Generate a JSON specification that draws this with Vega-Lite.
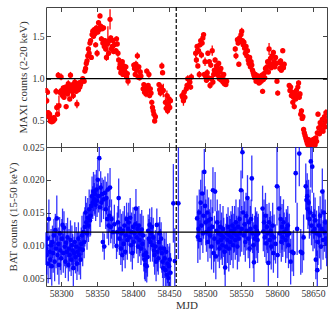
{
"$schema":"https://vega.github.io/schema/vega-lite/v6.json",
"padding":{"left":6,"top":5,"right":5,"bottom":5},
"background":"white",
"spacing":0,
"bounds":"flush",
"config":{
"view":{"stroke":"#444","strokeWidth":1},
"axis":{"domain":false,"grid":false,"tickSize":-4.5,"tickColor":"#444","tickWidth":1,"labelFont":"Liberation Serif","labelFontSize":9.6,"labelColor":"#333","labelPadding":6.5,"labelFlush":false,"labelOverlap":false,"titleFont":"Liberation Serif","titleFontSize":11,"titleFontWeight":"normal","titleColor":"#333","titlePadding":4}
},
"datasets":{
"maxi":[
{"t":58279,"v":0.86,"e":0.03},{"t":58280,"v":0.74,"e":0.04},{"t":58281,"v":0.84,"e":0.03},{"t":58282,"v":0.60,"e":0.03},{"t":58283,"v":0.55,"e":0.03},{"t":58284,"v":0.58,"e":0.04},{"t":58285,"v":0.50,"e":0.02},{"t":58286,"v":0.52,"e":0.03},{"t":58287,"v":0.49,"e":0.02},{"t":58288,"v":0.53,"e":0.03},{"t":58289,"v":0.50,"e":0.02},{"t":58290,"v":0.54,"e":0.03},{"t":58291,"v":0.52,"e":0.03},{"t":58293,"v":0.85,"e":0.04},{"t":58294,"v":0.66,"e":0.05},{"t":58295,"v":0.58,"e":0.03},{"t":58296,"v":1.04,"e":0.04},{"t":58297,"v":0.68,"e":0.12},{"t":58298,"v":0.84,"e":0.04},{"t":58300,"v":1.02,"e":0.04},{"t":58301,"v":0.86,"e":0.03},{"t":58302,"v":0.80,"e":0.04},{"t":58303,"v":0.89,"e":0.03},{"t":58304,"v":0.78,"e":0.03},{"t":58305,"v":0.84,"e":0.04},{"t":58306,"v":0.90,"e":0.03},{"t":58307,"v":0.67,"e":0.03},{"t":58308,"v":0.88,"e":0.04},{"t":58309,"v":0.82,"e":0.03},{"t":58310,"v":0.94,"e":0.04},{"t":58311,"v":0.86,"e":0.03},{"t":58312,"v":0.76,"e":0.03},{"t":58313,"v":1.04,"e":0.04},{"t":58314,"v":0.90,"e":0.03},{"t":58315,"v":0.85,"e":0.04},{"t":58316,"v":0.93,"e":0.03},{"t":58317,"v":0.80,"e":0.04},{"t":58318,"v":0.88,"e":0.03},{"t":58319,"v":0.96,"e":0.04},{"t":58320,"v":0.91,"e":0.03},{"t":58321,"v":0.85,"e":0.03},{"t":58322,"v":0.70,"e":0.05},{"t":58323,"v":0.92,"e":0.04},{"t":58324,"v":0.87,"e":0.03},{"t":58325,"v":0.95,"e":0.03},{"t":58326,"v":0.90,"e":0.04},{"t":58327,"v":0.93,"e":0.03},{"t":58328,"v":0.96,"e":0.04},{"t":58330,"v":1.00,"e":0.03},{"t":58332,"v":0.97,"e":0.03},{"t":58333,"v":1.09,"e":0.03},{"t":58334,"v":1.12,"e":0.03},{"t":58335,"v":1.18,"e":0.03},{"t":58336,"v":1.21,"e":0.03},{"t":58337,"v":1.27,"e":0.04},{"t":58338,"v":1.35,"e":0.03},{"t":58339,"v":1.30,"e":0.04},{"t":58340,"v":1.42,"e":0.03},{"t":58341,"v":1.45,"e":0.03},{"t":58342,"v":1.25,"e":0.03},{"t":58343,"v":1.52,"e":0.03},{"t":58344,"v":1.56,"e":0.03},{"t":58345,"v":1.50,"e":0.03},{"t":58346,"v":1.58,"e":0.03},{"t":58347,"v":1.53,"e":0.03},{"t":58348,"v":1.40,"e":0.03},{"t":58349,"v":1.60,"e":0.03},{"t":58350,"v":1.30,"e":0.04},{"t":58351,"v":1.55,"e":0.03},{"t":58352,"v":1.66,"e":0.03},{"t":58353,"v":1.58,"e":0.03},{"t":58354,"v":1.74,"e":0.03},{"t":58355,"v":1.62,"e":0.03},{"t":58356,"v":1.47,"e":0.03},{"t":58357,"v":1.59,"e":0.03},{"t":58358,"v":1.42,"e":0.03},{"t":58359,"v":1.60,"e":0.03},{"t":58360,"v":1.38,"e":0.04},{"t":58361,"v":1.45,"e":0.03},{"t":58362,"v":1.35,"e":0.03},{"t":58363,"v":1.25,"e":0.04},{"t":58364,"v":1.41,"e":0.03},{"t":58365,"v":1.42,"e":0.20},{"t":58366,"v":1.30,"e":0.03},{"t":58367,"v":1.45,"e":0.04},{"t":58368,"v":1.70,"e":0.12},{"t":58369,"v":1.48,"e":0.03},{"t":58370,"v":1.35,"e":0.04},{"t":58371,"v":1.38,"e":0.03},{"t":58372,"v":1.45,"e":0.03},{"t":58373,"v":1.32,"e":0.03},{"t":58374,"v":1.40,"e":0.04},{"t":58376,"v":1.33,"e":0.03},{"t":58377,"v":1.47,"e":0.03},{"t":58378,"v":1.41,"e":0.03},{"t":58379,"v":1.30,"e":0.04},{"t":58380,"v":1.22,"e":0.03},{"t":58381,"v":1.13,"e":0.03},{"t":58382,"v":1.17,"e":0.03},{"t":58383,"v":1.07,"e":0.03},{"t":58384,"v":1.10,"e":0.04},{"t":58385,"v":1.20,"e":0.03},{"t":58386,"v":1.05,"e":0.03},{"t":58387,"v":1.15,"e":0.03},{"t":58388,"v":1.12,"e":0.03},{"t":58389,"v":1.08,"e":0.04},{"t":58390,"v":1.14,"e":0.03},{"t":58391,"v":1.02,"e":0.04},{"t":58392,"v":1.06,"e":0.03},{"t":58393,"v":0.97,"e":0.05},{"t":58401,"v":1.16,"e":0.03},{"t":58402,"v":1.12,"e":0.03},{"t":58403,"v":1.05,"e":0.03},{"t":58404,"v":1.17,"e":0.04},{"t":58405,"v":1.10,"e":0.03},{"t":58406,"v":1.27,"e":0.04},{"t":58407,"v":1.02,"e":0.03},{"t":58408,"v":1.14,"e":0.03},{"t":58409,"v":1.01,"e":0.03},{"t":58410,"v":1.08,"e":0.04},{"t":58411,"v":1.03,"e":0.03},{"t":58414,"v":0.88,"e":0.03},{"t":58415,"v":0.93,"e":0.03},{"t":58416,"v":0.84,"e":0.03},{"t":58417,"v":0.90,"e":0.03},{"t":58418,"v":0.82,"e":0.04},{"t":58419,"v":1.09,"e":0.03},{"t":58420,"v":0.86,"e":0.03},{"t":58421,"v":0.92,"e":0.03},{"t":58422,"v":1.05,"e":0.04},{"t":58423,"v":0.80,"e":0.03},{"t":58424,"v":0.88,"e":0.03},{"t":58425,"v":0.83,"e":0.03},{"t":58426,"v":0.72,"e":0.03},{"t":58427,"v":0.66,"e":0.03},{"t":58428,"v":0.62,"e":0.03},{"t":58429,"v":0.58,"e":0.03},{"t":58430,"v":0.50,"e":0.02},{"t":58431,"v":0.55,"e":0.04},{"t":58436,"v":0.93,"e":0.03},{"t":58437,"v":0.87,"e":0.03},{"t":58438,"v":0.83,"e":0.04},{"t":58439,"v":0.90,"e":0.03},{"t":58440,"v":1.15,"e":0.04},{"t":58441,"v":1.07,"e":0.03},{"t":58442,"v":0.86,"e":0.08},{"t":58445,"v":0.72,"e":0.05},{"t":58446,"v":0.65,"e":0.04},{"t":58447,"v":0.80,"e":0.06},{"t":58448,"v":0.62,"e":0.04},{"t":58449,"v":0.70,"e":0.03},{"t":58450,"v":0.76,"e":0.05},{"t":58451,"v":0.66,"e":0.04},{"t":58452,"v":0.74,"e":0.03},{"t":58468,"v":0.80,"e":0.04},{"t":58469,"v":0.78,"e":0.03},{"t":58470,"v":0.74,"e":0.06},{"t":58471,"v":0.84,"e":0.03},{"t":58472,"v":0.78,"e":0.05},{"t":58474,"v":0.88,"e":0.04},{"t":58475,"v":0.92,"e":0.03},{"t":58476,"v":1.00,"e":0.04},{"t":58477,"v":0.93,"e":0.03},{"t":58479,"v":0.96,"e":0.03},{"t":58480,"v":0.90,"e":0.03},{"t":58481,"v":1.02,"e":0.04},{"t":58487,"v":1.30,"e":0.05},{"t":58488,"v":1.22,"e":0.04},{"t":58489,"v":1.38,"e":0.03},{"t":58490,"v":1.15,"e":0.03},{"t":58491,"v":1.33,"e":0.04},{"t":58492,"v":1.05,"e":0.04},{"t":58493,"v":1.40,"e":0.03},{"t":58494,"v":1.45,"e":0.03},{"t":58495,"v":1.28,"e":0.04},{"t":58496,"v":1.42,"e":0.03},{"t":58497,"v":1.48,"e":0.03},{"t":58498,"v":1.52,"e":0.03},{"t":58499,"v":1.05,"e":0.03},{"t":58500,"v":1.20,"e":0.05},{"t":58501,"v":1.02,"e":0.03},{"t":58502,"v":0.98,"e":0.03},{"t":58503,"v":1.07,"e":0.04},{"t":58504,"v":1.30,"e":0.03},{"t":58505,"v":1.01,"e":0.03},{"t":58506,"v":1.20,"e":0.03},{"t":58507,"v":0.92,"e":0.04},{"t":58508,"v":1.16,"e":0.03},{"t":58509,"v":1.00,"e":0.03},{"t":58510,"v":1.33,"e":0.06},{"t":58511,"v":0.96,"e":0.04},{"t":58512,"v":1.05,"e":0.03},{"t":58513,"v":1.10,"e":0.03},{"t":58514,"v":1.22,"e":0.03},{"t":58515,"v":1.08,"e":0.04},{"t":58516,"v":1.15,"e":0.03},{"t":58517,"v":1.12,"e":0.03},{"t":58518,"v":1.04,"e":0.03},{"t":58519,"v":1.18,"e":0.03},{"t":58520,"v":1.00,"e":0.04},{"t":58521,"v":1.08,"e":0.03},{"t":58522,"v":1.12,"e":0.03},{"t":58523,"v":0.98,"e":0.03},{"t":58524,"v":1.02,"e":0.04},{"t":58525,"v":0.96,"e":0.03},{"t":58526,"v":1.05,"e":0.03},{"t":58527,"v":0.94,"e":0.03},{"t":58528,"v":0.98,"e":0.03},{"t":58529,"v":0.93,"e":0.03},{"t":58530,"v":0.97,"e":0.03},{"t":58542,"v":1.35,"e":0.03},{"t":58543,"v":1.27,"e":0.04},{"t":58545,"v":1.46,"e":0.03},{"t":58546,"v":1.42,"e":0.03},{"t":58547,"v":1.17,"e":0.03},{"t":58548,"v":1.48,"e":0.03},{"t":58549,"v":1.44,"e":0.03},{"t":58550,"v":1.52,"e":0.03},{"t":58551,"v":1.56,"e":0.04},{"t":58552,"v":1.45,"e":0.03},{"t":58553,"v":1.40,"e":0.03},{"t":58554,"v":1.43,"e":0.03},{"t":58555,"v":1.36,"e":0.03},{"t":58556,"v":1.30,"e":0.03},{"t":58557,"v":1.38,"e":0.03},{"t":58558,"v":1.27,"e":0.03},{"t":58559,"v":1.33,"e":0.03},{"t":58560,"v":1.22,"e":0.03},{"t":58561,"v":1.18,"e":0.03},{"t":58562,"v":1.25,"e":0.03},{"t":58563,"v":1.14,"e":0.03},{"t":58564,"v":1.20,"e":0.03},{"t":58565,"v":1.16,"e":0.03},{"t":58566,"v":1.10,"e":0.03},{"t":58567,"v":1.07,"e":0.03},{"t":58568,"v":1.04,"e":0.03},{"t":58569,"v":1.01,"e":0.03},{"t":58570,"v":1.05,"e":0.03},{"t":58571,"v":0.97,"e":0.03},{"t":58572,"v":1.02,"e":0.03},{"t":58573,"v":0.99,"e":0.03},{"t":58574,"v":1.03,"e":0.03},{"t":58575,"v":0.95,"e":0.03},{"t":58576,"v":1.00,"e":0.03},{"t":58577,"v":1.02,"e":0.03},{"t":58578,"v":0.97,"e":0.04},{"t":58579,"v":1.04,"e":0.03},{"t":58580,"v":0.85,"e":0.03},{"t":58581,"v":0.99,"e":0.03},{"t":58582,"v":1.06,"e":0.03},{"t":58583,"v":1.01,"e":0.03},{"t":58584,"v":1.12,"e":0.03},{"t":58585,"v":1.09,"e":0.03},{"t":58586,"v":1.14,"e":0.03},{"t":58587,"v":1.20,"e":0.03},{"t":58588,"v":1.08,"e":0.03},{"t":58589,"v":1.35,"e":0.07},{"t":58590,"v":1.18,"e":0.03},{"t":58591,"v":1.24,"e":0.03},{"t":58592,"v":1.13,"e":0.03},{"t":58593,"v":1.27,"e":0.03},{"t":58594,"v":1.16,"e":0.03},{"t":58595,"v":1.31,"e":0.03},{"t":58596,"v":1.20,"e":0.03},{"t":58597,"v":1.14,"e":0.03},{"t":58598,"v":1.25,"e":0.03},{"t":58599,"v":1.18,"e":0.03},{"t":58600,"v":0.97,"e":0.03},{"t":58601,"v":0.83,"e":0.03},{"t":58603,"v":1.19,"e":0.03},{"t":58604,"v":1.12,"e":0.03},{"t":58605,"v":1.21,"e":0.03},{"t":58606,"v":1.10,"e":0.03},{"t":58607,"v":1.16,"e":0.03},{"t":58608,"v":1.33,"e":0.03},{"t":58609,"v":1.13,"e":0.03},{"t":58610,"v":1.17,"e":0.03},{"t":58617,"v":0.92,"e":0.03},{"t":58618,"v":0.86,"e":0.03},{"t":58619,"v":0.90,"e":0.03},{"t":58620,"v":0.80,"e":0.03},{"t":58621,"v":0.84,"e":0.03},{"t":58622,"v":0.72,"e":0.03},{"t":58623,"v":0.78,"e":0.03},{"t":58624,"v":0.67,"e":0.03},{"t":58625,"v":0.82,"e":0.03},{"t":58626,"v":0.76,"e":0.03},{"t":58627,"v":0.86,"e":0.03},{"t":58628,"v":0.80,"e":0.03},{"t":58629,"v":0.90,"e":0.03},{"t":58630,"v":0.95,"e":0.03},{"t":58631,"v":0.78,"e":0.03},{"t":58632,"v":0.82,"e":0.03},{"t":58633,"v":0.58,"e":0.03},{"t":58634,"v":0.62,"e":0.03},{"t":58635,"v":0.53,"e":0.03},{"t":58636,"v":0.55,"e":0.03},{"t":58637,"v":0.40,"e":0.03},{"t":58638,"v":0.36,"e":0.03},{"t":58639,"v":0.33,"e":0.03},{"t":58640,"v":0.30,"e":0.03},{"t":58641,"v":0.27,"e":0.03},{"t":58642,"v":0.24,"e":0.03},{"t":58643,"v":0.22,"e":0.03},{"t":58644,"v":0.28,"e":0.03},{"t":58645,"v":0.21,"e":0.03},{"t":58646,"v":0.25,"e":0.03},{"t":58647,"v":0.22,"e":0.03},{"t":58648,"v":0.26,"e":0.03},{"t":58649,"v":0.23,"e":0.03},{"t":58650,"v":0.28,"e":0.03},{"t":58651,"v":0.24,"e":0.03},{"t":58652,"v":0.29,"e":0.03},{"t":58653,"v":0.22,"e":0.03},{"t":58654,"v":0.30,"e":0.03},{"t":58655,"v":0.26,"e":0.03},{"t":58656,"v":0.36,"e":0.03},{"t":58657,"v":0.58,"e":0.03},{"t":58658,"v":0.42,"e":0.03},{"t":58659,"v":0.35,"e":0.03},{"t":58660,"v":0.48,"e":0.03},{"t":58661,"v":0.40,"e":0.03},{"t":58662,"v":0.45,"e":0.03},{"t":58663,"v":0.52,"e":0.03},{"t":58664,"v":0.38,"e":0.03},{"t":58665,"v":0.46,"e":0.03},{"t":58666,"v":0.55,"e":0.03},{"t":58667,"v":0.43,"e":0.03},{"t":58668,"v":0.60,"e":0.04},{"t":58669,"v":0.50,"e":0.03}
],
"bat":[
{"t":58279,"v":0.0095,"e":0.0025},{"t":58280,"v":0.0085,"e":0.003},{"t":58281,"v":0.0110,"e":0.0025},{"t":58282,"v":0.0072,"e":0.003},{"t":58283,"v":0.0140,"e":0.003},{"t":58284,"v":0.0090,"e":0.0025},{"t":58285,"v":0.0078,"e":0.003},{"t":58286,"v":0.0100,"e":0.0025},{"t":58287,"v":0.0068,"e":0.003},{"t":58288,"v":0.0105,"e":0.0025},{"t":58289,"v":0.0088,"e":0.003},{"t":58290,"v":0.0115,"e":0.0025},{"t":58291,"v":0.0075,"e":0.003},{"t":58292,"v":0.0123,"e":0.0025},{"t":58293,"v":0.0095,"e":0.003},{"t":58294,"v":0.0141,"e":0.0035},{"t":58295,"v":0.0085,"e":0.003},{"t":58296,"v":0.0102,"e":0.0025},{"t":58297,"v":0.0070,"e":0.003},{"t":58298,"v":0.0118,"e":0.0025},{"t":58299,"v":0.0092,"e":0.003},{"t":58300,"v":0.0080,"e":0.0025},{"t":58301,"v":0.0110,"e":0.003},{"t":58302,"v":0.0131,"e":0.0025},{"t":58303,"v":0.0088,"e":0.003},{"t":58304,"v":0.0127,"e":0.0025},{"t":58305,"v":0.0098,"e":0.003},{"t":58306,"v":0.0075,"e":0.0025},{"t":58307,"v":0.0104,"e":0.003},{"t":58308,"v":0.0090,"e":0.0025},{"t":58309,"v":0.0112,"e":0.003},{"t":58310,"v":0.0070,"e":0.0025},{"t":58311,"v":0.0095,"e":0.003},{"t":58312,"v":0.0085,"e":0.0025},{"t":58313,"v":0.0108,"e":0.003},{"t":58314,"v":0.0078,"e":0.0025},{"t":58315,"v":0.0100,"e":0.003},{"t":58316,"v":0.0092,"e":0.0025},{"t":58317,"v":0.0065,"e":0.003},{"t":58318,"v":0.0088,"e":0.0025},{"t":58319,"v":0.0105,"e":0.003},{"t":58320,"v":0.0082,"e":0.0025},{"t":58321,"v":0.0098,"e":0.003},{"t":58322,"v":0.0072,"e":0.0025},{"t":58323,"v":0.0090,"e":0.003},{"t":58324,"v":0.0110,"e":0.0025},{"t":58325,"v":0.0085,"e":0.003},{"t":58326,"v":0.0095,"e":0.0025},{"t":58327,"v":0.0078,"e":0.003},{"t":58328,"v":0.0102,"e":0.0025},{"t":58329,"v":0.0115,"e":0.003},{"t":58330,"v":0.0093,"e":0.0025},{"t":58331,"v":0.0120,"e":0.003},{"t":58332,"v":0.0105,"e":0.0025},{"t":58333,"v":0.0128,"e":0.003},{"t":58334,"v":0.0150,"e":0.0025},{"t":58335,"v":0.0135,"e":0.003},{"t":58336,"v":0.0118,"e":0.0025},{"t":58337,"v":0.0142,"e":0.003},{"t":58338,"v":0.0130,"e":0.0025},{"t":58339,"v":0.0155,"e":0.003},{"t":58340,"v":0.0138,"e":0.0025},{"t":58341,"v":0.0145,"e":0.003},{"t":58342,"v":0.0160,"e":0.0025},{"t":58343,"v":0.0175,"e":0.003},{"t":58344,"v":0.0165,"e":0.0025},{"t":58345,"v":0.0182,"e":0.003},{"t":58346,"v":0.0170,"e":0.0025},{"t":58347,"v":0.0178,"e":0.003},{"t":58348,"v":0.0162,"e":0.0025},{"t":58349,"v":0.0185,"e":0.003},{"t":58350,"v":0.0168,"e":0.0025},{"t":58351,"v":0.0200,"e":0.003},{"t":58352,"v":0.0175,"e":0.0025},{"t":58353,"v":0.0233,"e":0.002},{"t":58354,"v":0.0158,"e":0.003},{"t":58355,"v":0.0188,"e":0.0025},{"t":58356,"v":0.0165,"e":0.003},{"t":58357,"v":0.0178,"e":0.0025},{"t":58358,"v":0.0105,"e":0.0015},{"t":58359,"v":0.0170,"e":0.003},{"t":58360,"v":0.0098,"e":0.002},{"t":58361,"v":0.0180,"e":0.0025},{"t":58362,"v":0.0155,"e":0.003},{"t":58363,"v":0.0172,"e":0.0025},{"t":58364,"v":0.0140,"e":0.003},{"t":58365,"v":0.0185,"e":0.0025},{"t":58366,"v":0.0130,"e":0.003},{"t":58367,"v":0.0145,"e":0.0025},{"t":58368,"v":0.0188,"e":0.003},{"t":58369,"v":0.0128,"e":0.0025},{"t":58370,"v":0.0140,"e":0.003},{"t":58372,"v":0.0120,"e":0.0025},{"t":58374,"v":0.0132,"e":0.003},{"t":58377,"v":0.0099,"e":0.002},{"t":58378,"v":0.0120,"e":0.003},{"t":58379,"v":0.0135,"e":0.0025},{"t":58380,"v":0.0172,"e":0.003},{"t":58381,"v":0.0110,"e":0.0025},{"t":58382,"v":0.0125,"e":0.003},{"t":58383,"v":0.0095,"e":0.0025},{"t":58384,"v":0.0118,"e":0.003},{"t":58385,"v":0.0085,"e":0.0025},{"t":58386,"v":0.0122,"e":0.003},{"t":58387,"v":0.0102,"e":0.0025},{"t":58388,"v":0.0130,"e":0.003},{"t":58389,"v":0.0090,"e":0.0025},{"t":58390,"v":0.0115,"e":0.003},{"t":58391,"v":0.0140,"e":0.0025},{"t":58392,"v":0.0108,"e":0.003},{"t":58393,"v":0.0125,"e":0.0025},{"t":58394,"v":0.0135,"e":0.003},{"t":58395,"v":0.0112,"e":0.0025},{"t":58396,"v":0.0142,"e":0.003},{"t":58397,"v":0.0100,"e":0.0025},{"t":58398,"v":0.0120,"e":0.003},{"t":58399,"v":0.0088,"e":0.0025},{"t":58400,"v":0.0128,"e":0.003},{"t":58401,"v":0.0105,"e":0.0025},{"t":58402,"v":0.0118,"e":0.003},{"t":58403,"v":0.0132,"e":0.0025},{"t":58404,"v":0.0156,"e":0.003},{"t":58405,"v":0.0112,"e":0.0025},{"t":58406,"v":0.0125,"e":0.003},{"t":58407,"v":0.0098,"e":0.0025},{"t":58408,"v":0.0130,"e":0.003},{"t":58409,"v":0.0108,"e":0.0025},{"t":58410,"v":0.0118,"e":0.003},{"t":58411,"v":0.0095,"e":0.0025},{"t":58412,"v":0.0124,"e":0.003},{"t":58413,"v":0.0102,"e":0.0025},{"t":58414,"v":0.0115,"e":0.003},{"t":58415,"v":0.0085,"e":0.0025},{"t":58416,"v":0.0078,"e":0.003},{"t":58417,"v":0.0070,"e":0.0025},{"t":58418,"v":0.0088,"e":0.003},{"t":58419,"v":0.0068,"e":0.0025},{"t":58420,"v":0.0082,"e":0.003},{"t":58421,"v":0.0122,"e":0.0025},{"t":58422,"v":0.0110,"e":0.003},{"t":58423,"v":0.0131,"e":0.0025},{"t":58424,"v":0.0105,"e":0.003},{"t":58425,"v":0.0118,"e":0.0025},{"t":58426,"v":0.0128,"e":0.003},{"t":58427,"v":0.0100,"e":0.0025},{"t":58428,"v":0.0112,"e":0.003},{"t":58429,"v":0.0092,"e":0.0025},{"t":58430,"v":0.0085,"e":0.003},{"t":58431,"v":0.0098,"e":0.0025},{"t":58432,"v":0.0075,"e":0.003},{"t":58433,"v":0.0131,"e":0.0025},{"t":58434,"v":0.0090,"e":0.003},{"t":58435,"v":0.0080,"e":0.0025},{"t":58436,"v":0.0105,"e":0.003},{"t":58437,"v":0.0118,"e":0.0025},{"t":58438,"v":0.0095,"e":0.003},{"t":58439,"v":0.0110,"e":0.0025},{"t":58440,"v":0.0088,"e":0.003},{"t":58441,"v":0.0075,"e":0.0025},{"t":58442,"v":0.0065,"e":0.003},{"t":58443,"v":0.0095,"e":0.0025},{"t":58444,"v":0.0080,"e":0.003},{"t":58445,"v":0.0062,"e":0.0025},{"t":58446,"v":0.0090,"e":0.003},{"t":58447,"v":0.0055,"e":0.0025},{"t":58448,"v":0.0072,"e":0.003},{"t":58449,"v":0.0050,"e":0.0025},{"t":58450,"v":0.0068,"e":0.003},{"t":58451,"v":0.0078,"e":0.0025},{"t":58452,"v":0.0058,"e":0.003},{"t":58456,"v":0.0164,"e":0.006},{"t":58458,"v":0.0076,"e":0.005},{"t":58463,"v":0.0164,"e":0.0085},
{"t":58489,"v":0.0141,"e":0.0035},{"t":58490,"v":0.0113,"e":0.004},{"t":58491,"v":0.0125,"e":0.003},{"t":58492,"v":0.0150,"e":0.0035},{"t":58493,"v":0.0108,"e":0.003},{"t":58494,"v":0.0165,"e":0.0035},{"t":58495,"v":0.0130,"e":0.003},{"t":58496,"v":0.0179,"e":0.0035},{"t":58497,"v":0.0118,"e":0.003},{"t":58498,"v":0.0145,"e":0.0035},{"t":58499,"v":0.0212,"e":0.0035},{"t":58500,"v":0.0160,"e":0.003},{"t":58501,"v":0.0135,"e":0.0035},{"t":58502,"v":0.0120,"e":0.003},{"t":58503,"v":0.0150,"e":0.0035},{"t":58504,"v":0.0105,"e":0.003},{"t":58505,"v":0.0138,"e":0.0035},{"t":58506,"v":0.0125,"e":0.003},{"t":58507,"v":0.0115,"e":0.0035},{"t":58508,"v":0.0140,"e":0.003},{"t":58509,"v":0.0098,"e":0.0035},{"t":58510,"v":0.0128,"e":0.003},{"t":58511,"v":0.0184,"e":0.0035},{"t":58512,"v":0.0088,"e":0.003},{"t":58513,"v":0.0110,"e":0.0035},{"t":58514,"v":0.0182,"e":0.003},{"t":58515,"v":0.0083,"e":0.0035},{"t":58516,"v":0.0122,"e":0.003},{"t":58517,"v":0.0135,"e":0.0035},{"t":58518,"v":0.0105,"e":0.003},{"t":58519,"v":0.0118,"e":0.0035},{"t":58520,"v":0.0095,"e":0.003},{"t":58521,"v":0.0128,"e":0.0035},{"t":58522,"v":0.0108,"e":0.003},{"t":58523,"v":0.0115,"e":0.0035},{"t":58524,"v":0.0100,"e":0.003},{"t":58525,"v":0.0125,"e":0.0035},{"t":58526,"v":0.0112,"e":0.003},{"t":58527,"v":0.0090,"e":0.0035},{"t":58528,"v":0.0066,"e":0.003},{"t":58529,"v":0.0098,"e":0.0035},{"t":58530,"v":0.0118,"e":0.003},{"t":58531,"v":0.0108,"e":0.0035},{"t":58532,"v":0.0128,"e":0.003},{"t":58533,"v":0.0095,"e":0.0035},{"t":58534,"v":0.0115,"e":0.003},{"t":58535,"v":0.0105,"e":0.0035},{"t":58536,"v":0.0122,"e":0.003},{"t":58537,"v":0.0112,"e":0.0035},{"t":58538,"v":0.0130,"e":0.003},{"t":58539,"v":0.0100,"e":0.0035},{"t":58540,"v":0.0118,"e":0.003},{"t":58541,"v":0.0125,"e":0.0035},{"t":58542,"v":0.0108,"e":0.003},{"t":58543,"v":0.0135,"e":0.0035},{"t":58544,"v":0.0115,"e":0.003},{"t":58545,"v":0.0098,"e":0.0035},{"t":58546,"v":0.0128,"e":0.003},{"t":58547,"v":0.0110,"e":0.0035},{"t":58548,"v":0.0140,"e":0.003},{"t":58549,"v":0.0118,"e":0.0035},{"t":58550,"v":0.0184,"e":0.003},{"t":58551,"v":0.0125,"e":0.0035},{"t":58552,"v":0.0242,"e":0.004},{"t":58553,"v":0.0150,"e":0.0035},{"t":58554,"v":0.0115,"e":0.003},{"t":58555,"v":0.0132,"e":0.0035},{"t":58556,"v":0.0105,"e":0.003},{"t":58557,"v":0.0145,"e":0.0035},{"t":58558,"v":0.0122,"e":0.003},{"t":58559,"v":0.0172,"e":0.0035},{"t":58560,"v":0.0110,"e":0.003},{"t":58561,"v":0.0135,"e":0.0035},{"t":58562,"v":0.0095,"e":0.003},{"t":58563,"v":0.0125,"e":0.0035},{"t":58564,"v":0.0140,"e":0.003},{"t":58565,"v":0.0202,"e":0.0035},{"t":58566,"v":0.0118,"e":0.003},{"t":58567,"v":0.0100,"e":0.0035},{"t":58568,"v":0.0074,"e":0.003},{"t":58569,"v":0.0110,"e":0.0035},{"t":58570,"v":0.0128,"e":0.003},{"t":58571,"v":0.0115,"e":0.0035},{"t":58572,"v":0.0122,"e":0.003},{"t":58573,"v":0.0108,"e":0.0035},{"t":58574,"v":0.0118,"e":0.003},{"t":58580,"v":0.0156,"e":0.0035},{"t":58581,"v":0.0121,"e":0.003},{"t":58582,"v":0.0135,"e":0.0035},{"t":58583,"v":0.0112,"e":0.003},{"t":58584,"v":0.0145,"e":0.0035},{"t":58585,"v":0.0103,"e":0.003},{"t":58586,"v":0.0128,"e":0.0035},{"t":58587,"v":0.0118,"e":0.003},{"t":58588,"v":0.0073,"e":0.0035},{"t":58589,"v":0.0135,"e":0.003},{"t":58590,"v":0.0108,"e":0.0035},{"t":58591,"v":0.0122,"e":0.003},{"t":58592,"v":0.0098,"e":0.0035},{"t":58593,"v":0.0115,"e":0.003},{"t":58594,"v":0.0130,"e":0.0035},{"t":58595,"v":0.0088,"e":0.003},{"t":58596,"v":0.0112,"e":0.0035},{"t":58598,"v":0.0102,"e":0.003},{"t":58600,"v":0.0190,"e":0.006},{"t":58601,"v":0.0085,"e":0.0035},{"t":58603,"v":0.0156,"e":0.0035},{"t":58604,"v":0.0118,"e":0.003},{"t":58605,"v":0.0140,"e":0.0035},{"t":58606,"v":0.0105,"e":0.003},{"t":58607,"v":0.0128,"e":0.0035},{"t":58608,"v":0.0112,"e":0.003},{"t":58609,"v":0.0135,"e":0.0035},{"t":58610,"v":0.0120,"e":0.003},{"t":58612,"v":0.0108,"e":0.0035},{"t":58613,"v":0.0125,"e":0.003},{"t":58614,"v":0.0115,"e":0.0035},{"t":58615,"v":0.0130,"e":0.003},{"t":58616,"v":0.0100,"e":0.0035},{"t":58617,"v":0.0118,"e":0.003},{"t":58619,"v":0.0075,"e":0.0035},{"t":58621,"v":0.0090,"e":0.003},{"t":58623,"v":0.0088,"e":0.0035},{"t":58626,"v":0.0210,"e":0.0045},{"t":58628,"v":0.0125,"e":0.004},{"t":58631,"v":0.0240,"e":0.005},{"t":58633,"v":0.0090,"e":0.0035},{"t":58635,"v":0.0088,"e":0.003},{"t":58637,"v":0.0112,"e":0.0035},{"t":58640,"v":0.0190,"e":0.0035},{"t":58641,"v":0.0169,"e":0.003},{"t":58642,"v":0.0175,"e":0.0035},{"t":58643,"v":0.0155,"e":0.003},{"t":58644,"v":0.0165,"e":0.0035},{"t":58645,"v":0.0140,"e":0.003},{"t":58646,"v":0.0150,"e":0.0035},{"t":58647,"v":0.0228,"e":0.004},{"t":58648,"v":0.0130,"e":0.003},{"t":58649,"v":0.0220,"e":0.004},{"t":58650,"v":0.0121,"e":0.003},{"t":58651,"v":0.0145,"e":0.0035},{"t":58652,"v":0.0125,"e":0.003},{"t":58653,"v":0.0138,"e":0.0035},{"t":58654,"v":0.0078,"e":0.003},{"t":58655,"v":0.0118,"e":0.0035},{"t":58656,"v":0.0062,"e":0.003},{"t":58657,"v":0.0105,"e":0.0035},{"t":58658,"v":0.0130,"e":0.003},{"t":58659,"v":0.0115,"e":0.0035},{"t":58660,"v":0.0145,"e":0.003},{"t":58661,"v":0.0098,"e":0.0035},{"t":58662,"v":0.0125,"e":0.003},{"t":58663,"v":0.0182,"e":0.0035},{"t":58664,"v":0.0108,"e":0.003},{"t":58665,"v":0.0150,"e":0.0035},{"t":58666,"v":0.0120,"e":0.003},{"t":58667,"v":0.0135,"e":0.0035},{"t":58668,"v":0.0110,"e":0.003},{"t":58669,"v":0.0103,"e":0.0035}
],
"one":[{"k":1}]
},
"vconcat":[
{
"width":281,"height":140,
"resolve":{"axis":{"x":"independent","y":"independent"}},
"layer":[
{"data":{"name":"maxi"},
"mark":{"type":"errorbar","color":"#ff0000","thickness":1.3,"ticks":false},
"encoding":{
"x":{"field":"t","type":"quantitative","scale":{"domain":[58279,58669.5],"nice":false,"zero":false},"axis":{"orient":"bottom","labels":false,"title":null,"values":[58300,58350,58400,58450,58500,58550,58600,58650]}},
"y":{"field":"v","type":"quantitative","scale":{"domain":[0.193,1.846],"nice":false,"zero":false,"clamp":true},"axis":{"orient":"left","title":"MAXI counts (2-20 keV)","values":[0.5,1.0,1.5],"format":".1f"}},
"yError":{"field":"e"}
}},
{"data":{"name":"maxi"},
"mark":{"type":"circle","color":"#ff0000","size":28,"opacity":1,"clip":true},
"encoding":{
"x":{"field":"t","type":"quantitative","axis":{"orient":"top","labels":false,"title":null,"values":[58300,58350,58400,58450,58500,58550,58600,58650]}},
"y":{"field":"v","type":"quantitative","axis":{"orient":"right","labels":false,"title":null,"values":[0.5,1.0,1.5]}}
}},
{"data":{"name":"one"},
"mark":{"type":"rule","color":"#000000","strokeWidth":1.3},
"encoding":{"y":{"datum":1.0,"type":"quantitative","axis":null}}},
{"data":{"name":"one"},
"mark":{"type":"rule","color":"#000000","strokeWidth":1.2,"strokeDash":[4,2]},
"encoding":{"x":{"datum":58460,"type":"quantitative","axis":null}}}
]
},
{
"width":281,"height":139,
"resolve":{"axis":{"x":"independent","y":"independent"}},
"layer":[
{"data":{"name":"bat"},
"mark":{"type":"errorbar","color":"#0000ff","thickness":1.3,"opacity":0.8,"ticks":false},
"encoding":{
"x":{"field":"t","type":"quantitative","scale":{"domain":[58279,58669.5],"nice":false,"zero":false},"axis":{"orient":"bottom","title":"MJD","titlePadding":2,"values":[58300,58350,58400,58450,58500,58550,58600,58650],"format":"d"}},
"y":{"field":"v","type":"quantitative","scale":{"domain":[0.00378,0.025],"nice":false,"zero":false,"clamp":true},"axis":{"orient":"left","title":"BAT counts (15-50 keV)","values":[0.005,0.010,0.015,0.020,0.025],"format":".3f"}},
"yError":{"field":"e"}
}},
{"data":{"name":"bat"},
"mark":{"type":"circle","color":"#0000ff","size":22,"opacity":1,"clip":true},
"encoding":{
"x":{"field":"t","type":"quantitative","axis":{"orient":"top","labels":false,"title":null,"values":[58300,58350,58400,58450,58500,58550,58600,58650]}},
"y":{"field":"v","type":"quantitative","axis":{"orient":"right","labels":false,"title":null,"values":[0.005,0.010,0.015,0.020,0.025]}}
}},
{"data":{"name":"one"},
"mark":{"type":"rule","color":"#000000","strokeWidth":1.3},
"encoding":{"y":{"datum":0.012,"type":"quantitative","axis":null}}},
{"data":{"name":"one"},
"mark":{"type":"rule","color":"#000000","strokeWidth":1.2,"strokeDash":[4,2]},
"encoding":{"x":{"datum":58460,"type":"quantitative","axis":null}}}
]
}
]
}
